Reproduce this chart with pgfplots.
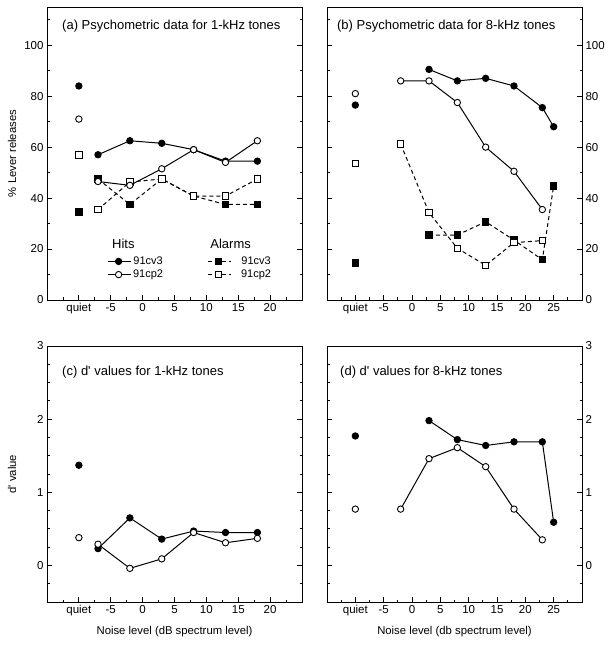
\documentclass[border=0pt]{standalone}
\usepackage{pgfplots}
\pgfplotsset{compat=1.18}
\usepackage{fontspec}
\setmainfont{Liberation Sans}
\tikzset{ttl/.style={anchor=west, inner sep=0pt, font=\fontsize{13}{15}\selectfont},
  hdr/.style={anchor=west, inner sep=0pt, font=\fontsize{13}{15}\selectfont}}
\begin{document}
\begin{tikzpicture}
\useasboundingbox (0,0) rectangle (615pt,645pt);
\pgfplotsset{
  panel/.style={
    scale only axis, width=255pt,
    axis line style={line width=0.9pt},
    every tick/.style={black, line width=0.8pt},
    major tick length=5pt, minor tick length=2.5pt,
    tick align=inside,
    xtick pos=left, ytick pos=both,
    /pgf/number format/assume math mode=true,
    ticklabel style={font=\fontsize{11.5}{13}\selectfont},
    label style={font=\fontsize{11.3}{13}\selectfont},
    clip=false,
  },
  pa/.style={panel, xmin=-15, xmax=25,
    xtick={-10,-5,0,5,10,15,20}, xticklabels={quiet,-5,0,5,10,15,20},
    minor xtick={-12.5,-7.5,-2.5,2.5,7.5,12.5,17.5,22.5}},
  pb/.style={panel, xmin=-15, xmax=30,
    xtick={-10,-5,0,5,10,15,20,25}, xticklabels={quiet,-5,0,5,10,15,20,25},
    minor xtick={-12.5,-7.5,-2.5,2.5,7.5,12.5,17.5,22.5,27.5}},
  toprow/.style={height=293pt, ymin=0, ymax=115,
    ytick={0,20,40,60,80,100}, minor ytick={10,30,50,70,90,110}},
  botrow/.style={height=256pt, ymin=-0.5, ymax=3,
    ytick={0,1,2,3}, minor ytick={-0.25,0.25,0.5,0.75,1.25,1.5,1.75,2.25,2.5,2.75},
    xlabel style={at={(axis description cs:0.5,-0.117)}, anchor=center}},
  hitA/.style={black, line width=1pt, mark=*, mark size=3.2pt, mark options={solid, fill=black, line width=0.9pt}},
  hitB/.style={black, line width=1pt, mark=*, mark size=3.2pt, mark options={solid, fill=white, line width=0.9pt}},
  alA/.style={black, line width=1pt, dash pattern=on 4pt off 3pt, mark=square*, mark size=3.2pt, mark options={solid, fill=black, line width=0.9pt}},
  alB/.style={black, line width=1pt, dash pattern=on 4pt off 3pt, mark=square*, mark size=3.2pt, mark options={solid, fill=white, line width=0.9pt}},
}
% ---------- (a)
\begin{axis}[pa, toprow, at={(47pt,345pt)}, anchor=south west,
  ylabel={\% Lever releases},
  ylabel style={at={(axis description cs:-0.137,0.5)}, anchor=center},
  legend columns=2,
  legend style={draw=none, fill=none, at={(axis cs:-5.6,17.8)}, anchor=north west,
    inner sep=0pt, font=\fontsize{11}{12}\selectfont,
    nodes={inner sep=2pt},
    /tikz/every even column/.append style={column sep=42pt}},
  legend image code/.code={\draw[mark repeat=2,mark phase=2] plot coordinates {(0pt,0pt) (11pt,0pt) (23pt,0pt)};},
]
\addplot[hitA, only marks, forget plot] coordinates {(-10,84)};
\addplot[hitB, only marks, forget plot] coordinates {(-10,71)};
\addplot[alA, only marks, forget plot] coordinates {(-10,34.5)};
\addplot[alB, only marks, forget plot] coordinates {(-10,57)};
\addplot[alA, forget plot] coordinates {(-7,47.5) (-2,37.5) (3,47.5) (8,40.8) (13,37.5) (18,37.5)};
\addplot[alB, forget plot] coordinates {(-7,35.5) (-2,46.3) (3,47.5) (8,40.8) (13,40.8) (18,47.5)};
\addplot[hitA, forget plot] coordinates {(-7,57) (-2,62.5) (3,61.5) (8,59) (13,54.5) (18,54.5)};
\addplot[hitB, forget plot] coordinates {(-7,46.5) (-2,45) (3,51.5) (8,59) (13,54) (18,62.5)};
\addlegendimage{hitA}\addlegendentry{91cv3}
\addlegendimage{alA}\addlegendentry{\hspace{8pt}91cv3}
\addlegendimage{hitB}\addlegendentry{91cp2}
\addlegendimage{alB}\addlegendentry{\hspace{8pt}91cp2}
\node[hdr] at (axis cs:-4.8,22) {Hits};
\node[hdr] at (axis cs:10.6,22) {Alarms};
\node[ttl] at (rel axis cs:0.059,0.935) {(a) Psychometric data for 1-kHz tones};
\end{axis}
% ---------- (b)
\begin{axis}[pb, toprow, at={(327pt,345pt)}, anchor=south west,
  yticklabel pos=right, ytick pos=both]
\addplot[hitB, only marks] coordinates {(-10,81)};
\addplot[hitA, only marks] coordinates {(-10,76.5)};
\addplot[alA, only marks] coordinates {(-10,14.5)};
\addplot[alB, only marks] coordinates {(-10,53.5)};
\addplot[alA] coordinates {(3,25.5) (8,25.5) (13,30.7) (18,23.5) (23,15.8) (25,44.8)};
\addplot[alB] coordinates {(-2,61.2) (3,34.3) (8,20.3) (13,13.6) (18,22.5) (23,23.3)};
\addplot[hitA] coordinates {(3,90.5) (8,86) (13,87) (18,84) (23,75.5) (25,68)};
\addplot[hitB] coordinates {(-2,86) (3,86) (8,77.5) (13,60) (18,50.5) (23,35.5)};
\node[ttl] at (rel axis cs:0.039,0.935) {(b) Psychometric data for 8-kHz tones};
\end{axis}
% ---------- (c)
\begin{axis}[pa, botrow, at={(47pt,43pt)}, anchor=south west,
  ylabel={d\textquotesingle\ value},
  ylabel style={at={(axis description cs:-0.137,0.5)}, anchor=center},
  xlabel={Noise level (dB spectrum level)}]
\addplot[hitA, only marks] coordinates {(-10,1.37)};
\addplot[hitB, only marks] coordinates {(-10,0.38)};
\addplot[hitA] coordinates {(-7,0.23) (-2,0.65) (3,0.36) (8,0.47) (13,0.45) (18,0.45)};
\addplot[hitB] coordinates {(-7,0.29) (-2,-0.04) (3,0.09) (8,0.45) (13,0.31) (18,0.37)};
\node[ttl] at (rel axis cs:0.059,0.898) {(c) d\textquotesingle\ values for 1-kHz tones};
\end{axis}
% ---------- (d)
\begin{axis}[pb, botrow, at={(327pt,43pt)}, anchor=south west,
  yticklabel pos=right, ytick pos=both,
  xlabel={Noise level (db spectrum level)}]
\addplot[hitA, only marks] coordinates {(-10,1.77)};
\addplot[hitB, only marks] coordinates {(-10,0.77)};
\addplot[hitA] coordinates {(3,1.98) (8,1.72) (13,1.64) (18,1.69) (23,1.69) (25,0.59)};
\addplot[hitB] coordinates {(-2,0.77) (3,1.46) (8,1.61) (13,1.35) (18,0.77) (23,0.35)};
\node[ttl] at (rel axis cs:0.051,0.898) {(d) d\textquotesingle\ values for 8-kHz tones};
\end{axis}
\end{tikzpicture}
\end{document}
